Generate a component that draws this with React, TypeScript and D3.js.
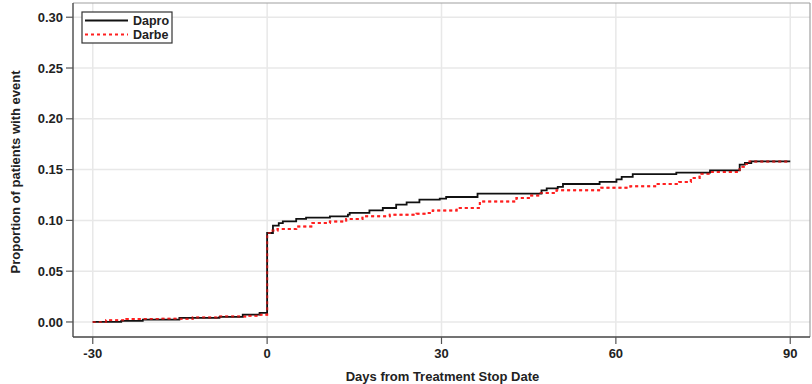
import React from "react";
import * as d3 from "d3";

// Cumulative proportion of patients with event, by day relative to treatment stop
const daproDays = [-30, -25.1, -21.4, -15.1, -8.2, -4.2, -1.3, 0, 1.0, 2.0, 2.7, 5.0, 6.7, 10.8, 13.9, 14.2, 17.6, 19.9, 22.2, 24.0, 26.2, 29.7, 30.8, 36.2, 47.2, 48.1, 50.0, 50.9, 57.2, 60.1, 61.0, 62.9, 70.4, 76.2, 81.3, 82.2, 83.3, 90];
const daproValues = [0, 0.001, 0.0023, 0.004, 0.005, 0.0072, 0.009, 0.0876, 0.0948, 0.0974, 0.099, 0.1014, 0.1027, 0.1039, 0.1056, 0.1073, 0.1098, 0.1122, 0.1155, 0.1177, 0.1204, 0.1214, 0.123, 0.1263, 0.1295, 0.1315, 0.1329, 0.1358, 0.138, 0.1404, 0.1428, 0.1455, 0.1471, 0.1492, 0.1548, 0.1565, 0.158, 0.158];

const darbeDays = [-30, -27.7, -24.2, -18.5, -12.8, -8.7, -3.6, -1.3, 0, 0.95, 1.8, 5.0, 7.8, 10.8, 13.6, 16.4, 21.1, 25.7, 27.4, 28.5, 32.6, 36.6, 42.9, 45.2, 46.9, 49.8, 57.5, 62.5, 67.0, 70.9, 72.9, 74.4, 76.2, 81.3, 82.0, 83.0, 90];
const darbeValues = [0, 0.0016, 0.003, 0.0032, 0.0045, 0.0055, 0.0062, 0.0072, 0.0876, 0.09, 0.0915, 0.094, 0.0974, 0.099, 0.1014, 0.104, 0.1056, 0.1066, 0.1073, 0.1098, 0.1122, 0.1187, 0.122, 0.1246, 0.127, 0.1296, 0.1322, 0.1335, 0.1359, 0.1378, 0.1418, 0.1459, 0.1476, 0.1529, 0.1555, 0.158, 0.158];

const xTicks = [-30, 0, 30, 60, 90];
const yTicks = [0, 0.05, 0.1, 0.15, 0.2, 0.25, 0.3];

const seriesNames = ["Dapro", "Darbe"];

const W = 812;
const H = 384;
const left = 73;
const right = 810;
const top = 3;
const bottom = 337;

const FONT = "'Liberation Sans', Arial, Helvetica, sans-serif";

export default function App() {
  const x = d3.scaleLinear().domain([-33.4, 93.4]).range([left, right]);
  const y = d3.scaleLinear().domain([-0.0148, 0.3140]).range([bottom, top]);

  const line = d3
    .line<[number, number]>()
    .x((d) => x(d[0]))
    .y((d) => y(d[1]))
    .curve(d3.curveStepAfter);

  const dapro = daproDays.map((d, i) => [d, daproValues[i]] as [number, number]);
  const darbe = darbeDays.map((d, i) => [d, darbeValues[i]] as [number, number]);

  return (
    <svg
      width={W}
      height={H}
      style={{ position: "fixed", left: 0, top: 0, background: "#fff" }}
      fontFamily={FONT}
    >
      {/* grid */}
      {xTicks.map((t) => (
        <line key={"gx" + t} x1={x(t)} x2={x(t)} y1={top} y2={bottom} stroke="#e8e8e8" strokeWidth={1.5} />
      ))}
      {yTicks.map((t) => (
        <line key={"gy" + t} x1={left} x2={right} y1={y(t)} y2={y(t)} stroke="#e8e8e8" strokeWidth={1.5} />
      ))}

      {/* frame */}
      <line x1={left} x2={right} y1={top} y2={top} stroke="#a0a0a0" strokeWidth={1.2} />
      <line x1={right} x2={right} y1={top} y2={bottom} stroke="#a0a0a0" strokeWidth={1.2} />
      <line x1={left} x2={left} y1={top} y2={bottom} stroke="#555" strokeWidth={1.5} />
      <line x1={left} x2={right} y1={bottom} y2={bottom} stroke="#444" strokeWidth={1.5} />

      {/* y axis ticks and labels */}
      {yTicks.map((t) => (
        <g key={"yt" + t}>
          <line x1={left - 7} x2={left} y1={y(t)} y2={y(t)} stroke="#555" strokeWidth={1.2} />
          <text
            x={left - 10}
            y={y(t)}
            dy="0.36em"
            textAnchor="end"
            fontSize={13}
            fontWeight="bold"
            fill="#222"
          >
            {t.toFixed(2)}
          </text>
        </g>
      ))}

      {/* x axis ticks and labels */}
      {xTicks.map((t) => (
        <g key={"xt" + t}>
          <line x1={x(t)} x2={x(t)} y1={bottom} y2={bottom + 7} stroke="#555" strokeWidth={1.2} />
          <text x={x(t)} y={358} textAnchor="middle" fontSize={13} fontWeight="bold" fill="#222">
            {t}
          </text>
        </g>
      ))}

      {/* axis titles */}
      <text x={(left + right) / 2 + 1} y={381} textAnchor="middle" fontSize={13} fontWeight="bold" fill="#222">
        Days from Treatment Stop Date
      </text>
      <text
        transform={`translate(19.5, ${(top + bottom) / 2 + 2}) rotate(-90)`}
        textAnchor="middle"
        fontSize={13}
        fontWeight="bold"
        fill="#222"
      >
        Proportion of patients with event
      </text>

      {/* curves */}
      <path d={line(darbe) ?? ""} fill="none" stroke="#ff2020" strokeWidth={2} strokeDasharray="3,3" />
      <path d={line(dapro) ?? ""} fill="none" stroke="#111" strokeWidth={1.8} />
      <path d={line(darbe) ?? ""} fill="none" stroke="#ff2020" strokeWidth={2} strokeDasharray="3,3" opacity={0.6} />

      {/* legend */}
      <g>
        <rect x={82} y={12} width={90} height={31} fill="#fff" stroke="#333" strokeWidth={1.2} />
        <line x1={85} x2={128} y1={20.5} y2={20.5} stroke="#111" strokeWidth={1.8} />
        <line x1={85} x2={128} y1={34.5} y2={34.5} stroke="#ff2020" strokeWidth={2} strokeDasharray="3,3" />
        <text x={133} y={25} fontSize={12.5} fontWeight="bold" fill="#222">
          {seriesNames[0]}
        </text>
        <text x={133} y={39} fontSize={12.5} fontWeight="bold" fill="#222">
          {seriesNames[1]}
        </text>
      </g>
    </svg>
  );
}
